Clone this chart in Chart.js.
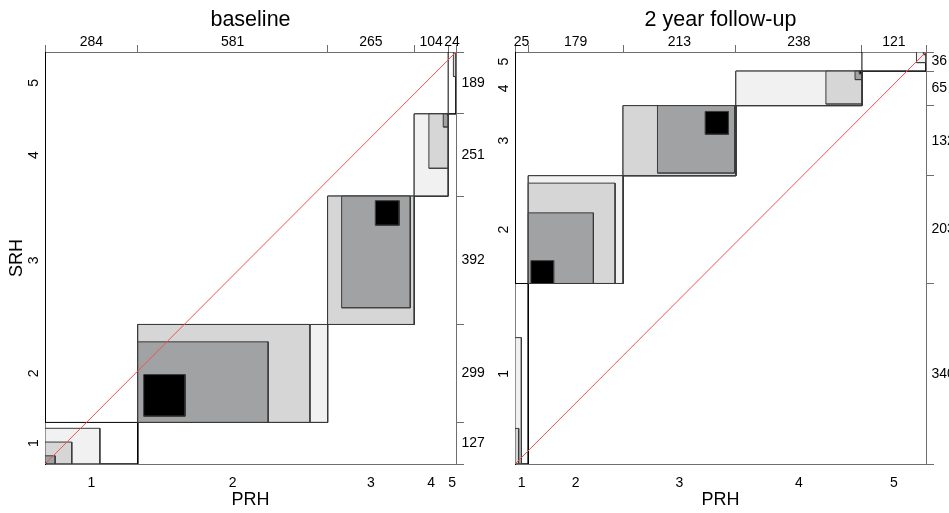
<!DOCTYPE html>
<html>
<head>
<meta charset="utf-8">
<script src="https://cdn.jsdelivr.net/npm/chart.js@4.4.1/dist/chart.umd.min.js"></script>
<style>
  body { margin: 0; background: #fff; }
  canvas { position: absolute; top: 0; }
  #baseline { left: 0; }
  #followup { left: 490px; }
</style>
</head>
<body>
<canvas id="baseline" width="490" height="513"></canvas>
<canvas id="followup" width="459" height="513"></canvas>
<script>
const categories = ['1', '2', '3', '4', '5'];

// baseline margins: PRH = columns (x), SRH = rows (y)
const basePRH = [284, 581, 265, 104, 24];
const baseSRH = [127, 299, 392, 251, 189];
// rectangles inside each diagonal block, in counts from the block corner:
// [x offset, width, y offset, height]
const baseExact = [[0, 4, 0, 4], [18, 127, 19, 127], [146, 73, 303, 75], [101, 3, 248, 3], null];
const baseStep1 = [[0, 31, 0, 25], [0, 399, 0, 246], [43, 210, 51, 341], [89, 15, 211, 40], null];
const baseStep2 = [[0, 82, 0, 67], [0, 527, 0, 299], [0, 265, 0, 392], [45, 59, 85, 166], [16, 8, 114, 75]];
const baseStep3 = [[0, 168, 0, 109], [0, 581, 0, 299], null, [0, 104, 0, 251], null];

// 2 year follow-up
const followPRH = [25, 179, 213, 238, 121];
const followSRH = [340, 203, 132, 65, 36];
const followExact = [null, [5, 43, 0, 43], [155, 44, 78, 43], [233, 5, 60, 5], null];
const followStep1 = [null, [0, 123, 0, 133], [65, 146, 5, 127], [225, 13, 49, 16], [116, 5, 31, 5]];
const followStep2 = [[0, 7, 0, 67], [0, 164, 0, 189], [0, 213, 0, 132], [170, 68, 3, 62], null];
const followStep3 = [[0, 12, 0, 238], [0, 179, 0, 203], null, [0, 238, 0, 65], [103, 18, 16, 20]];

const shades = ['#000000', '#a0a2a3', '#d5d6d5', '#f1f1f1'];
const axisGray = '#6e6e6e';

Chart.defaults.font.family = "'Liberation Sans', Arial, sans-serif";
Chart.defaults.color = '#000';

function cumsum(arr) {
  let s = 0;
  return [0, ...arr.map(v => s += v)];
}

function centers(arr) {
  const c = cumsum(arr);
  return arr.map((v, i) => c[i] + v / 2);
}

// one rectangle as a line dataset, filled down to its own bottom edge
function box(x0, w, y0, h, fillColor, edgeColor, order) {
  const x1 = x0 + w, y1 = y0 + h;
  return {
    data: [{x: x0, y: y0}, {x: x0, y: y1}, {x: x1, y: y1}, {x: x1, y: y0}, {x: x0, y: y0}, {x: x1, y: y0}],
    backgroundColor: fillColor,
    borderColor: edgeColor,
    borderWidth: 1,
    fill: {value: y0},
    pointRadius: 0,
    order: order
  };
}

function agreementDatasets(cols, rows, levels) {
  const xc = cumsum(cols), yc = cumsum(rows);
  const sets = [];
  cols.forEach((c, i) => sets.push(box(xc[i], c, yc[i], rows[i], '#ffffff', '#000000', 10)));
  levels.forEach((rects, j) => {
    rects.forEach((r, i) => {
      if (r) sets.push(box(xc[i] + r[0], r[1], yc[i] + r[2], r[3], shades[3 - j], '#3a3a3a', 9 - j));
    });
  });
  const n = xc[xc.length - 1];
  sets.push({
    data: [{x: 0, y: 0}, {x: n, y: n}],
    borderColor: '#ee5555',
    borderWidth: 1,
    pointRadius: 0,
    fill: false,
    order: 0
  });
  return sets;
}

// ticks at the margin boundaries (marks only) and at the centres (labels only)
function marginTicks(sizes) {
  const edges = cumsum(sizes).map(v => ({value: v, edge: true, lab: ''}));
  const mids = centers(sizes).map((v, i) => ({value: v, edge: false, lab: String(sizes[i])}));
  return edges.concat(mids).sort((a, b) => a.value - b.value);
}

function panel(canvasId, cols, rows, levels, title, yTitle, leftW, rightW) {
  const n = cols.reduce((a, b) => a + b, 0);
  const xm = centers(cols), ym = centers(rows);

  new Chart(document.getElementById(canvasId), {
    type: 'line',
    data: {datasets: agreementDatasets(cols, rows, levels)},
    options: {
      responsive: false,
      devicePixelRatio: 1,
      animation: false,
      events: [],
      layout: {padding: 0},
      plugins: {legend: {display: false}, tooltip: {enabled: false}, title: {display: false}},
      scales: {
        x: {
          type: 'linear', position: 'bottom', min: 0, max: n,
          afterBuildTicks: s => { s.ticks = xm.map(v => ({value: v})); },
          afterFit: s => { s.height = 49; },
          ticks: {autoSkip: false, maxRotation: 0, minRotation: 0, padding: 10.3, font: {size: 14},
            callback: (v, i) => categories[i]},
          grid: {drawOnChartArea: false, drawTicks: false},
          border: {display: true, color: axisGray, width: 1},
          title: {display: true, text: 'PRH', font: {size: 18}, padding: {top: 0, bottom: 2}}
        },
        x2: {
          type: 'linear', position: 'top', min: 0, max: n,
          afterBuildTicks: s => { s.ticks = marginTicks(cols); },
          afterFit: s => { s.height = 52; },
          ticks: {autoSkip: false, maxRotation: 0, minRotation: 0, padding: -5.1, font: {size: 14},
            callback: (v, i, t) => t[i].lab},
          grid: {drawOnChartArea: false, drawTicks: true, tickLength: 7, tickWidth: 1,
            tickColor: c => (c.tick && c.tick.edge) ? axisGray : 'rgba(0,0,0,0)'},
          border: {display: true, color: axisGray, width: 1},
          title: {display: true, text: title, font: {size: 21.5}, padding: {top: 6.8, bottom: 0}}
        },
        y: {
          type: 'linear', position: 'left', min: 0, max: n,
          afterBuildTicks: s => { s.ticks = ym.map(v => ({value: v})); },
          afterFit: s => { s.width = leftW; },
          ticks: {autoSkip: false, minRotation: 90, maxRotation: 90, crossAlign: 'center', padding: 6.5,
            font: {size: 14}, callback: (v, i) => categories[i]},
          grid: {drawOnChartArea: false, drawTicks: false},
          border: {display: true, color: '#000000', width: 1},
          title: {display: !!yTitle, text: yTitle || '', font: {size: 18}, padding: {top: 6.7, bottom: 0}}
        },
        y2: {
          type: 'linear', position: 'right', min: 0, max: n,
          afterBuildTicks: s => { s.ticks = marginTicks(rows); },
          afterFit: s => { s.width = rightW; },
          ticks: {autoSkip: false, padding: -2.5, font: {size: 14},
            callback: (v, i, t) => t[i].lab},
          grid: {drawOnChartArea: false, drawTicks: true, tickLength: 8, tickWidth: 1,
            tickColor: c => (c.tick && c.tick.edge) ? axisGray : 'rgba(0,0,0,0)'},
          border: {display: true, color: axisGray, width: 1}
        }
      }
    }
  });
}

panel('baseline', basePRH, baseSRH, [baseStep3, baseStep2, baseStep1, baseExact], 'baseline', 'SRH', 45, 34);
panel('followup', followPRH, followSRH, [followStep3, followStep2, followStep1, followExact], '2 year follow-up', null, 25, 23);
</script>
</body>
</html>
